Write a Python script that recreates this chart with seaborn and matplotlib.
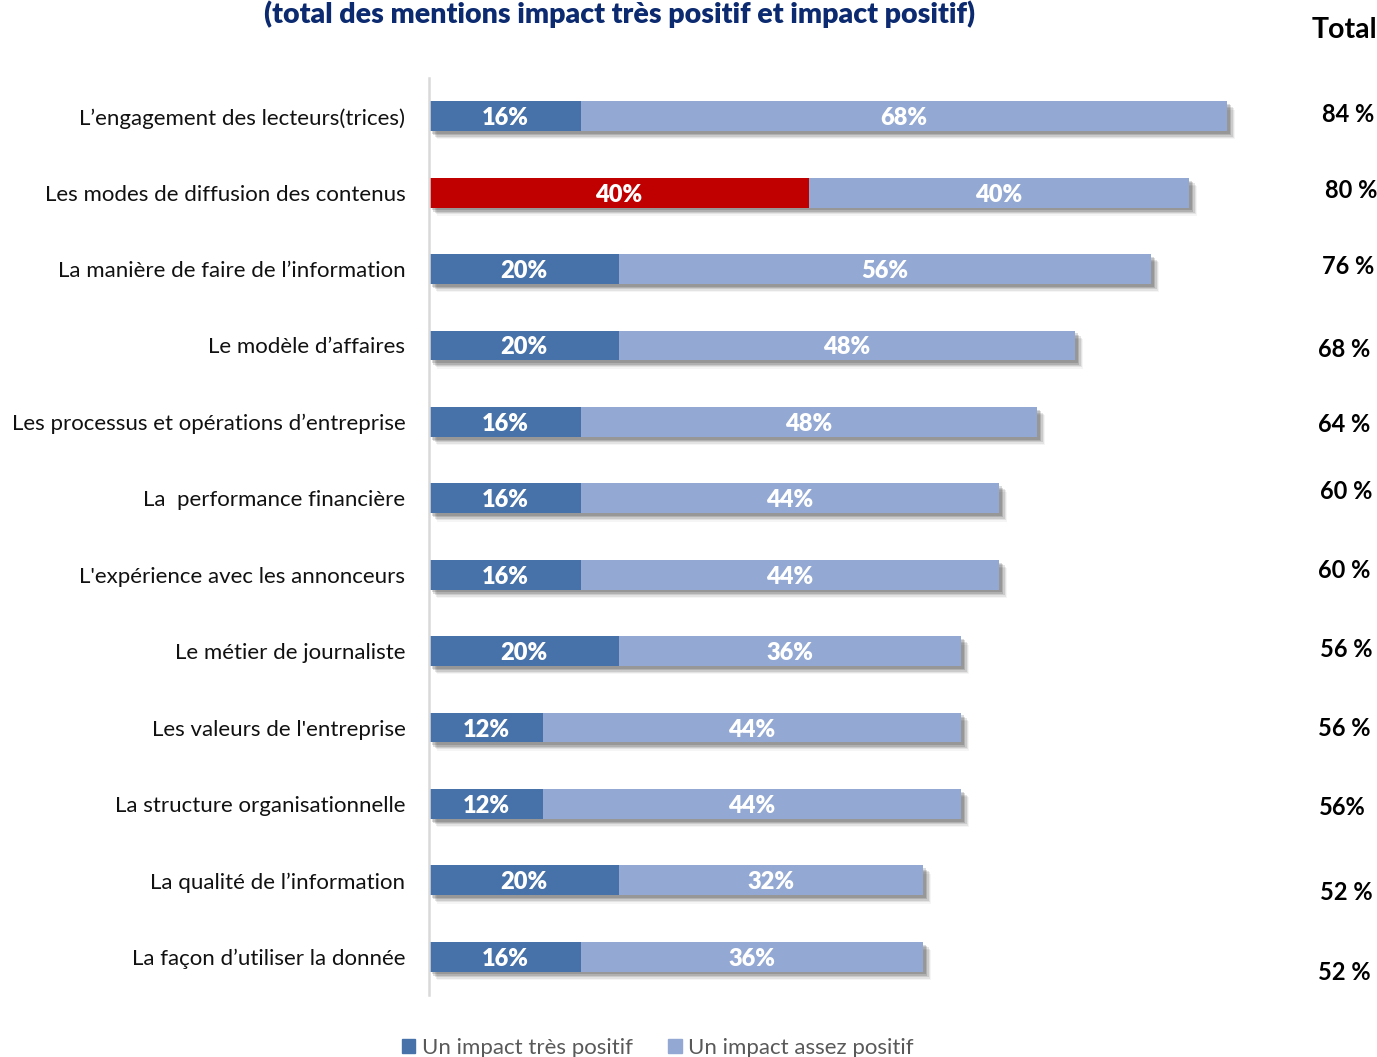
import matplotlib
matplotlib.use("Agg")
import matplotlib.pyplot as plt
import matplotlib.patheffects as pe
import seaborn as sns
import pandas as pd

categories = [
    "L’engagement des lecteurs(trices)",
    "Les modes de diffusion des contenus",
    "La manière de faire de l’information",
    "Le modèle d’affaires",
    "Les processus et opérations d’entreprise",
    "La  performance financière",
    "L'expérience avec les annonceurs",
    "Le métier de journaliste",
    "Les valeurs de l'entreprise",
    "La structure organisationnelle",
    "La qualité de l’information",
    "La façon d’utiliser la donnée",
]
tres_positif = [16, 40, 20, 20, 16, 16, 16, 20, 12, 12, 20, 16]
assez_positif = [68, 40, 56, 48, 48, 44, 44, 36, 44, 44, 32, 36]
total_labels = ["84 %", "80 %", "76 %", "68 %", "64 %", "60 %", "60 %",
                "56 %", "56 %", "56%", "52 %", "52 %"]
series_names = ["Un impact très positif", "Un impact assez positif"]
title = "(total des mentions impact très positif et impact positif)"

# layout-only tweaks for the total column (pixel offsets)
total_dy = [-4, -4, -4, 2, 0, -9, -7, -4, -2, 1, 10, 13]
total_dx = [0, 3, 0, -4, -4, -2, -4, -2, -4, -6, -2, -4]

DARK = "#4672A9"
LIGHT = "#93A9D3"
RED = "#C00000"
FONT = ["Lato", "DejaVu Sans"]

sns.set_theme(style="white")
plt.rcParams["font.family"] = FONT

df = pd.DataFrame({
    "cat": categories,
    "dark": tres_positif,
    "light": assez_positif,
})
df["total"] = df["dark"] + df["light"]

W, H = 1377, 1057
fig = plt.figure(figsize=(W / 100, H / 100), dpi=100)
ax = fig.add_axes([429 / W, 1 - 995 / H, 950 / W, (995 - 78) / H])

shadow = [
    pe.SimplePatchShadow(offset=(6, -6), shadow_rgbFace="#000000", alpha=0.04),
    pe.SimplePatchShadow(offset=(5, -5), shadow_rgbFace="#000000", alpha=0.07),
    pe.SimplePatchShadow(offset=(4, -4), shadow_rgbFace="#000000", alpha=0.10),
    pe.SimplePatchShadow(offset=(3, -3), shadow_rgbFace="#000000", alpha=0.13),
    pe.SimplePatchShadow(offset=(2, -2), shadow_rgbFace="#000000", alpha=0.14),
    pe.Normal(),
]

sns.barplot(data=df, y="cat", x="total", color=LIGHT, orient="h", width=0.39,
            saturation=1, ax=ax, order=categories)
for p in ax.patches:
    p.set_path_effects(shadow)
    p.set_edgecolor("none")
n_light = len(ax.patches)

dark_cols = [RED if i == 1 else DARK for i in range(len(categories))]
sns.barplot(data=df, y="cat", x="dark", hue="cat", palette=dark_cols, orient="h",
            width=0.39, saturation=1, ax=ax, order=categories, hue_order=categories,
            legend=False)
for p in ax.patches[n_light:]:
    p.set_edgecolor("none")

ax.set_xlim(0, 100)
ax.set_ylim(11.5, -0.5)
ax.set_xlabel("")
ax.set_ylabel("")
ax.set_xticks([])
for s in ["top", "right", "bottom"]:
    ax.spines[s].set_visible(False)
ax.spines["left"].set_color("#D9D9D9")
ax.spines["left"].set_linewidth(1.8)
ax.tick_params(axis="y", length=0, pad=17)
for lab in ax.get_yticklabels():
    lab.set_fontsize(16)
    lab.set_color("#111111")
    lab.set_family(FONT)

for i, (d, l) in enumerate(zip(tres_positif, assez_positif)):
    ax.text(d / 2, i, f"{d}%", ha="center", va="center_baseline", color="white",
            fontsize=17, fontweight="heavy", family=FONT)
    ax.text(d + l / 2, i, f"{l}%", ha="center", va="center_baseline", color="white",
            fontsize=17, fontweight="heavy", family=FONT)

# total column
for i, t in enumerate(total_labels):
    ypix = 116 + 76.5 * i + total_dy[i]
    fig.text((1348 + total_dx[i]) / W, 1 - ypix / H, t, ha="center", va="center_baseline",
             fontsize=17, fontweight="bold", color="black", family=FONT)
fig.text(1344 / W, 1 - 27 / H, "Total", ha="center", va="center_baseline",
         fontsize=20.5, fontweight="bold", color="black", family=FONT)

# title (at the very top, as in the reference)
fig.text(620 / W, 1 - 23 / H, title, ha="center", va="baseline",
         fontsize=20.5, fontweight="heavy", color="#0B2A6F", family=FONT)

# legend
handles = [plt.Rectangle((0, 0), 1, 1, color=DARK), plt.Rectangle((0, 0), 1, 1, color=LIGHT)]
fig.legend(handles, series_names, loc="center", bbox_to_anchor=(658 / W, 1 - 1048 / H),
           ncol=2, frameon=False, handlelength=0.6, handleheight=0.6,
           handletextpad=0.3, columnspacing=1.6, labelcolor="#595959",
           prop={"family": FONT, "size": 16})

fig.savefig("out.png", dpi=100)
